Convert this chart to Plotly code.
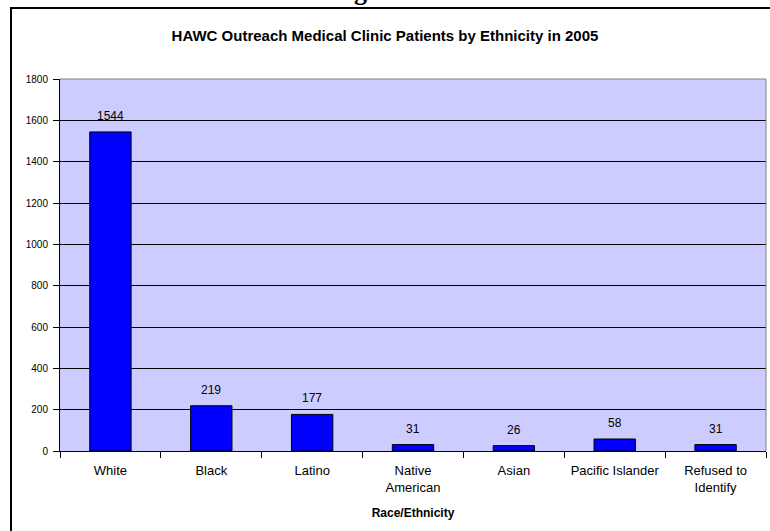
import plotly.graph_objects as go

categories = ["White", "Black", "Latino", "Native<br>American", "Asian", "Pacific Islander", "Refused to<br>Identify"]
patients = [1544, 219, 177, 31, 26, 58, 31]
y_ticks = [0, 200, 400, 600, 800, 1000, 1200, 1400, 1600, 1800]

FONT = "Liberation Sans, Arial, sans-serif"
W, H = 770, 531
L, R, T, B = 60, 4, 79, 80
PW, PH = W - L - R, H - T - B

def px_x(px):
    return (px - L) / PW

def px_y(py):
    return (H - B - py) / PH

fig = go.Figure()
fig.add_trace(go.Bar(
    x=categories, y=patients,
    marker=dict(color="#0000FF", line=dict(color="#000000", width=1)),
    width=0.41,
    hoverinfo="x+y",
))

for c, v in zip(categories, patients):
    fig.add_annotation(x=c, y=v, xref="x", yref="y", text=str(v), showarrow=False,
                       yanchor="bottom", yshift=7,
                       font=dict(family=FONT, size=12, color="#000000"))

# partially visible heading above the frame
fig.add_annotation(x=px_x(377), y=px_y(8), xref="paper", yref="paper", text="<b>Figure 6</b>",
                   showarrow=False, xanchor="center", yanchor="bottom",
                   font=dict(family="Liberation Serif, Times New Roman, serif", size=26, color="#000000"))

# outer frame (left and top visible)
fig.add_shape(type="line", xref="paper", yref="paper", x0=px_x(11), x1=px_x(11), y0=px_y(8), y1=px_y(560),
              line=dict(color="#000000", width=2))
fig.add_shape(type="line", xref="paper", yref="paper", x0=px_x(10), x1=px_x(800), y0=px_y(8), y1=px_y(8),
              line=dict(color="#000000", width=2))
# plot area border top/right in gray
fig.add_shape(type="line", xref="paper", yref="paper", x0=0, x1=1, y0=1, y1=1,
              line=dict(color="#808080", width=1))
fig.add_shape(type="line", xref="paper", yref="paper", x0=1, x1=1, y0=0, y1=1,
              line=dict(color="#808080", width=1))

fig.update_layout(
    width=W, height=H,
    margin=dict(l=L, r=R, t=T, b=B),
    paper_bgcolor="#FFFFFF",
    plot_bgcolor="#CCCCFF",
    showlegend=False,
    title=dict(text="<b>HAWC Outreach Medical Clinic Patients by Ethnicity in 2005</b>",
               x=0.5, xref="container", xanchor="center",
               y=1 - 36 / H, yref="container", yanchor="middle",
               font=dict(family=FONT, size=15, color="#000000")),
    font=dict(family=FONT, size=11, color="#000000"),
)

fig.update_xaxes(
    range=[-0.5, 6.5],
    showline=True, linecolor="#000000", linewidth=1,
    ticks="outside", tickson="boundaries", ticklen=6, tickcolor="#000000",
    ticklabelstandoff=7,
    tickfont=dict(family=FONT, size=13, color="#000000"),
    title=dict(text="<b>Race/Ethnicity</b>", font=dict(family=FONT, size=12, color="#000000"), standoff=15),
    showgrid=False,
)
fig.update_yaxes(
    range=[0, 1800],
    tickvals=y_ticks, ticktext=[str(t) for t in y_ticks],
    showline=True, linecolor="#000000", linewidth=1,
    ticks="outside", ticklen=6, tickcolor="#000000",
    ticklabelstandoff=3,
    tickfont=dict(family=FONT, size=10, color="#000000"),
    showgrid=True, gridcolor="#000000", gridwidth=1,
    zeroline=False,
)

fig.write_html("out.html")
